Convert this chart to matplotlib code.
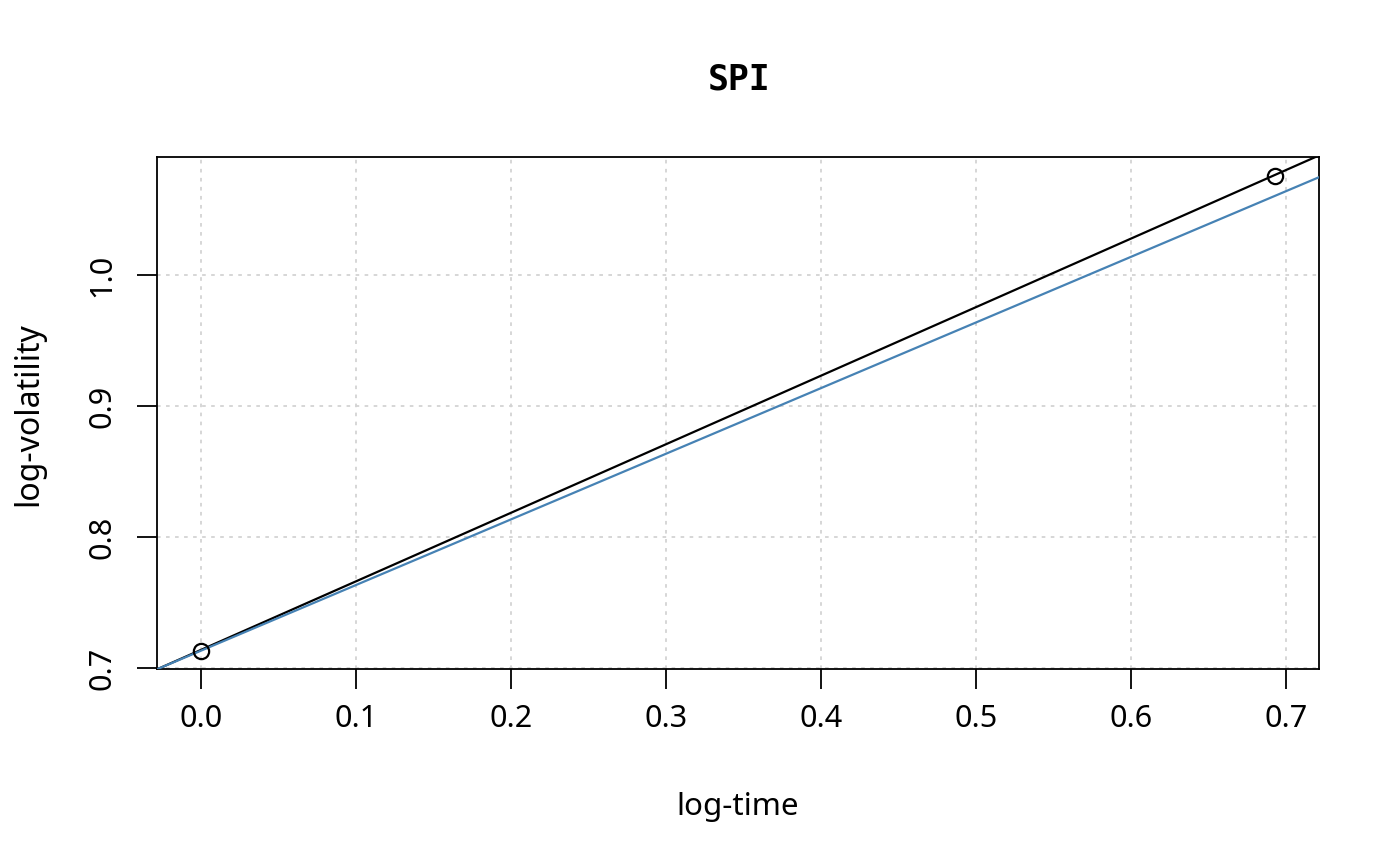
import numpy as np
import matplotlib.pyplot as plt

plt.rcParams['font.family'] = ['Noto Sans', 'DejaVu Sans']

# observed points (log-time, log-volatility)
log_time = [0.0, 0.6931]
log_vol = [0.7130, 1.0756]

# fitted lines: intercept, slope
fit_black = (0.7138, 0.5232)
fit_blue = (0.7132, 0.5010)

xticks = [0.0, 0.1, 0.2, 0.3, 0.4, 0.5, 0.6, 0.7]
yticks = [0.7, 0.8, 0.9, 1.0]

W, H = 1400, 866
fig = plt.figure(figsize=(14, 8.66), dpi=100)
ax = fig.add_axes([157 / W, 1 - 669 / H, (1319 - 157) / W, (669 - 157) / H])

xlim = (-0.0284, 0.7213)
ylim = (0.6992, 1.0900)
ax.set_xlim(xlim)
ax.set_ylim(ylim)

# dotted grid like R's grid()
for xv in xticks:
    ax.axvline(xv, color='lightgray', linestyle=(0, (2, 3)), linewidth=1.3, zorder=0)
for yv in yticks:
    ax.axhline(yv, color='lightgray', linestyle=(0, (2, 3)), linewidth=1.3, zorder=0)

xs = np.array(xlim)
ax.plot(xs, fit_black[0] + fit_black[1] * xs, color='black', linewidth=1.6, zorder=2)
ax.plot(xs, fit_blue[0] + fit_blue[1] * xs, color='steelblue', linewidth=1.6, zorder=3)
ax.plot(log_time, log_vol, 'o', markerfacecolor='none', markeredgecolor='black',
        markersize=11, markeredgewidth=1.6, zorder=4)

ax.set_xticks(xticks)
ax.set_xticklabels([f'{v:.1f}' for v in xticks], fontsize=22)
ax.set_yticks(yticks)
ax.set_yticklabels([f'{v:.1f}' for v in yticks], rotation=90, va='center',
                   fontsize=22)
ax.tick_params(direction='out', length=14.4, width=1.3)
ax.tick_params(axis='x', pad=11)
ax.tick_params(axis='y', pad=14)
for s in ax.spines.values():
    s.set_linewidth(1.3)

fig.text(738 / W, 1 - 815 / H, 'log-time', fontsize=22.5, ha='center', va='baseline')
fig.text(37 / W, 1 - 414 / H, 'log-volatility', fontsize=23, rotation=90,
         rotation_mode='anchor', ha='center', va='baseline')
fig.text(739 / W, 1 - 80 / H, 'SPI', fontsize=25, fontweight='bold',
         family='DejaVu Sans Mono', ha='center', va='center')

fig.savefig('out.png', dpi=100)
